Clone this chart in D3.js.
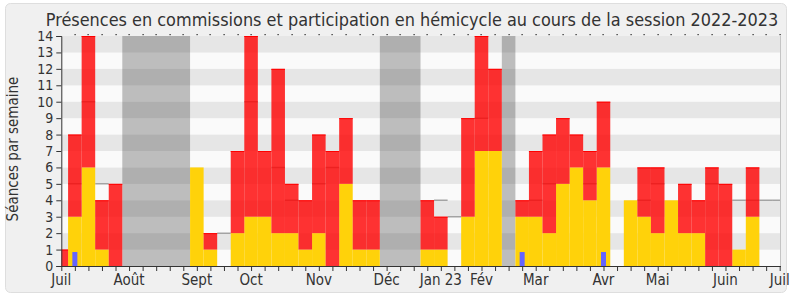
<!DOCTYPE html>
<html>
<head>
<meta charset="utf-8">
<script src="https://cdn.jsdelivr.net/npm/d3@7"></script>
<style>
  body { margin: 0; background: #fff; }
  text { font-family: "DejaVu Sans Condensed", "DejaVu Sans", sans-serif; fill: #333; }
</style>
</head>
<body>
<div id="chart"></div>
<script>
// one entry per week, from the first week of July 2022 to July 2023
const commission = [0,3,6,1,0, 0,0,0,0,0, 6,1,0,2,3,3,2,2,1,2,0,5,1,1, 0,0,0, 1,1,0,3,7,7, 0, 3,3,2,5,6,4,6,0,4,3,2,4,2,2,0,0,1,3,0,0];
const hemicycle  = [1,5,8,3,5, 0,0,0,0,0, 0,1,0,5,11,4,10,3,3,6,7,4,3,3, 0,0,0, 3,2,0,6,7,5, 0, 1,4,6,4,2,3,4,0,0,3,4,0,3,2,6,5,0,3,0,0];
const questions  = [0,0.85,0,0,0, 0,0,0,0,0, 0,0,0,0,0,0,0,0,0,0,0,0,0,0, 0,0,0, 0,0,0,0,0,0, 0, 0.85,0,0,0,0,0,0.85,0,0,0,0,0,0,0,0,0,0,0,0,0];
const mediane    = [null,5,10,5,null, null,null,null,null,null, null,null,2,null,10,null,6,4,null,5,6,null,null,null, null,null,null, null,4,3,null,9,null, null, null,4,5,null,null,5,null,null,null,4,5,null,null,null,5,null,4,4,4,4];

// vacation weeks (first, last)
const vacances = [[5, 9], [24, 26], [33, 33]];

const monthLabels = ["Juil", "Août", "Sept", "Oct", "Nov", "Déc", "Jan 23", "Fév", "Mar", "Avr", "Mai", "Juin", "Juil"];
const monthWeeks  = [0, 5, 10, 14, 19, 24, 28, 31, 35, 40, 44, 49, 53];
const yTicks = [0,1,2,3,4,5,6,7,8,9,10,11,12,13,14];

const W = 790, H = 300;
const svg = d3.select("#chart").append("svg")
  .attr("width", W)
  .attr("height", H);

const x = d3.scaleLinear().domain([0, 53]).range([61.3, 779.7]);
const y = d3.scaleLinear().domain([0, 14]).range([266, 36]);
const bw = x(1) - x(0);
const pLeft = x(0), pRight = 781, pTop = y(14), pBottom = y(0);

// frame
svg.append("rect")
  .attr("x", 5.5).attr("y", 3.5)
  .attr("width", 781).attr("height", 289)
  .attr("rx", 5)
  .attr("fill", "#f0f0f0")
  .attr("stroke", "#dedede");

svg.append("clipPath").attr("id", "plot")
  .append("rect")
  .attr("x", pLeft).attr("y", pTop)
  .attr("width", pRight - pLeft).attr("height", pBottom - pTop);

const plot = svg.append("g").attr("clip-path", "url(#plot)");

// stripes
plot.selectAll(".stripe")
  .data(yTicks.slice(0, -1))
  .join("rect")
  .attr("x", pLeft)
  .attr("width", pRight - pLeft)
  .attr("y", d => y(d + 1))
  .attr("height", d => y(d) - y(d + 1))
  .attr("fill", d => d % 2 ? "#e6e6e6" : "#fafafa");

// vacations
plot.selectAll(".vac")
  .data(vacances)
  .join("rect")
  .attr("x", d => x(d[0]) - bw / 2)
  .attr("width", d => (d[1] - d[0] + 1) * bw)
  .attr("y", pTop)
  .attr("height", pBottom - pTop)
  .attr("fill", "rgba(50,50,50,0.3)");

// median of all deputies, drawn under the bars
plot.selectAll(".med")
  .data(mediane.map((v, i) => ({ i, v })).filter(d => d.v !== null))
  .join("line")
  .attr("x1", d => x(d.i) - bw / 2)
  .attr("x2", d => x(d.i) + bw / 2)
  .attr("y1", d => y(d.v))
  .attr("y2", d => y(d.v))
  .attr("stroke", "#a3a3a3")
  .attr("stroke-width", 1.5);

// commission presence
plot.selectAll(".com")
  .data(commission.map((v, i) => ({ i, v })).filter(d => d.v > 0))
  .join("rect")
  .attr("x", d => x(d.i) - bw / 2)
  .attr("width", bw)
  .attr("y", d => y(d.v))
  .attr("height", d => y(0) - y(d.v))
  .attr("fill", "#ffd20a");

// hemicycle, stacked over commission
const hem = hemicycle.map((v, i) => ({ i, v, base: commission[i] })).filter(d => d.v > 0);
plot.selectAll(".hem")
  .data(hem)
  .join("rect")
  .attr("x", d => x(d.i) - bw / 2)
  .attr("width", bw)
  .attr("y", d => y(d.base + d.v))
  .attr("height", d => y(d.base) - y(d.base + d.v))
  .attr("fill", "rgba(255,0,0,0.8)");

plot.selectAll(".hemtop")
  .data(hem)
  .join("line")
  .attr("x1", d => x(d.i) - bw / 2)
  .attr("x2", d => x(d.i) + bw / 2)
  .attr("y1", d => y(d.base + d.v) + 0.5)
  .attr("y2", d => y(d.base + d.v) + 0.5)
  .attr("stroke", "#ff0000")
  .attr("stroke-width", 1);

// oral questions
plot.selectAll(".q")
  .data(questions.map((v, i) => ({ i, v })).filter(d => d.v > 0))
  .join("rect")
  .attr("x", d => x(d.i) - 2.5)
  .attr("width", 5)
  .attr("y", d => y(d.v))
  .attr("height", d => y(0) - y(d.v))
  .attr("fill", "#6464ff");

// right border of plot
svg.append("line")
  .attr("x1", pRight - 0.5).attr("x2", pRight - 0.5)
  .attr("y1", pTop).attr("y2", pBottom)
  .attr("stroke", "#c4c4c4");

// top dotted ticks
svg.selectAll(".dot")
  .data(d3.range(1, 54))
  .join("rect")
  .attr("x", d => Math.round(x(d)) - 0.5)
  .attr("y", pTop - 2)
  .attr("width", 1.2)
  .attr("height", 1.2)
  .attr("fill", "#222");

// y axis
const yAxis = svg.append("g")
  .attr("transform", `translate(${pLeft},0)`)
  .call(d3.axisLeft(y).tickValues(yTicks).tickSize(5).tickPadding(3).tickFormat(d3.format("d")));
yAxis.select(".domain").attr("stroke", "#333");
yAxis.selectAll(".tick line").attr("stroke", "#333");
yAxis.selectAll("text")
  .attr("font-size", 14)
  .attr("font-family", "'DejaVu Sans', sans-serif")
  .attr("fill", "#333");

// x axis
const xAxis = svg.append("g")
  .attr("transform", `translate(0,${pBottom})`)
  .call(d3.axisBottom(x).tickValues(d3.range(0, 54)).tickSize(5).tickFormat(""));
xAxis.select(".domain").attr("stroke", "#333").attr("d", `M${pLeft},0.5H${pRight}`);
xAxis.selectAll(".tick line").attr("stroke", "#333");

svg.selectAll(".month")
  .data(monthLabels)
  .join("text")
  .attr("x", (d, i) => x(monthWeeks[i]))
  .attr("y", 285)
  .attr("text-anchor", "middle")
  .attr("font-size", 15)
  .text(d => d);

svg.append("text")
  .attr("transform", "translate(18,149) rotate(-90)")
  .attr("text-anchor", "middle")
  .attr("font-size", 15)
  .text("Séances par semaine");

svg.append("text")
  .attr("x", 412)
  .attr("y", 26)
  .attr("text-anchor", "middle")
  .attr("font-size", 17.9)
  .text("Présences en commissions et participation en hémicycle au cours de la session 2022-2023");
</script>
</body>
</html>
